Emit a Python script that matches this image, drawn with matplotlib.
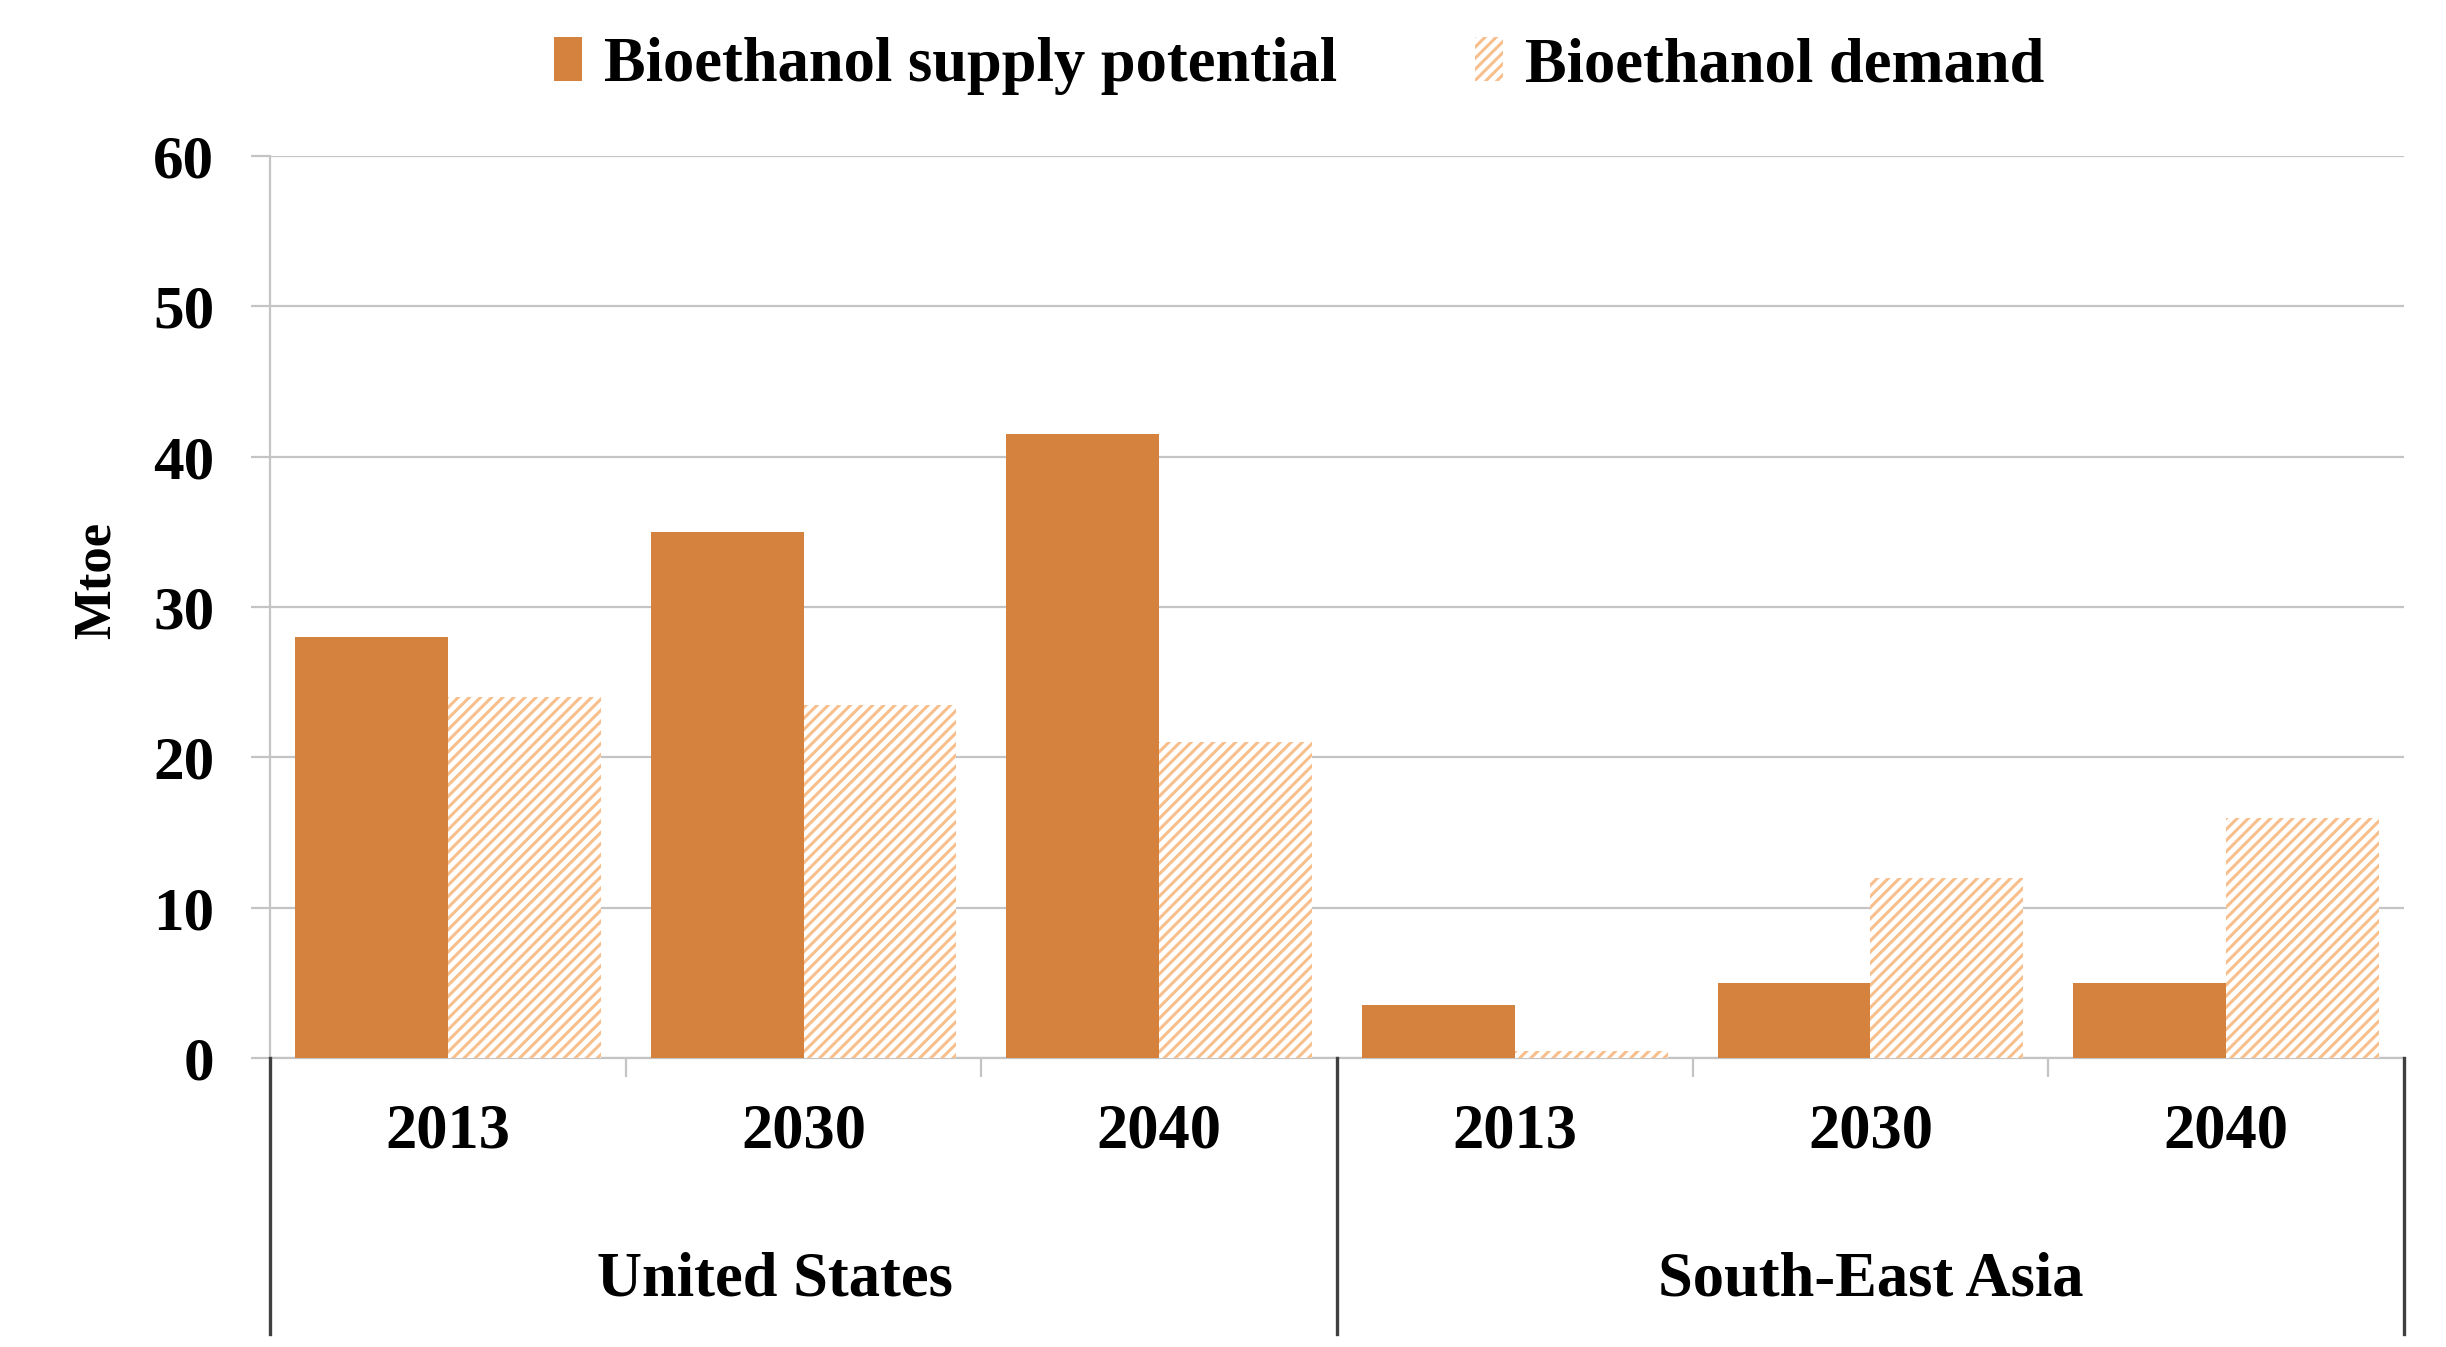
import numpy as np
import matplotlib
matplotlib.use('Agg')
import matplotlib.pyplot as plt
import matplotlib.transforms as mtransforms


# =====================================
# Data
# =====================================
regions = ['United States', 'South-East Asia']
years = ['2013', '2030', '2040']

supply = [28.0, 35.0, 41.5, 3.5, 5.0, 5.0]
demand = [24.0, 23.5, 21.0, 0.5, 12.0, 16.0]

supply_label = 'Bioethanol supply potential'
demand_label = 'Bioethanol demand'

SUPPLY_COLOR = '#D5823F'
DEMAND_COLOR = '#F8BF8D'
GRID_COLOR = '#C4C4C4'
SEP_COLOR = '#404040'


def main():
    plt.rcParams['font.family'] = ['Liberation Serif', 'DejaVu Serif']
    plt.rcParams['font.weight'] = 'bold'
    plt.rcParams['hatch.linewidth'] = 2.2

    fig = plt.figure(figsize=(24.46, 13.47), dpi=100)
    ax = fig.add_axes([0.1104, 0.2145, 0.8724, 0.6697])

    n_cat = len(regions) * len(years)
    x = np.arange(n_cat)
    w = 0.43

    ax.bar(x - w/2, supply, w, color=SUPPLY_COLOR, lw=0,
           label=supply_label, zorder=3)
    ax.bar(x + w/2, demand, w, color='white', edgecolor=DEMAND_COLOR,
           hatch='///', lw=0, label=demand_label, zorder=3)

    ax.set_xlim(-0.5, n_cat - 0.5)
    ax.set_ylim(0, 60)
    ax.set_yticks(np.arange(0, 61, 10))
    ax.grid(axis='y', color=GRID_COLOR, lw=1.6, zorder=0)
    ax.set_axisbelow(True)

    for side in ['top', 'right']:
        ax.spines[side].set_visible(False)
    ax.spines['left'].set_color(GRID_COLOR)
    ax.spines['left'].set_linewidth(1.6)
    ax.spines['bottom'].set_color(GRID_COLOR)
    ax.spines['bottom'].set_linewidth(1.6)

    ax.tick_params(axis='y', labelsize=44, length=14, width=1.6,
                   color=GRID_COLOR, pad=26)

    # year labels as major ticks, category boundaries as minor ticks
    ax.set_xticks(x)
    ax.set_xticklabels(years * len(regions), fontsize=45)
    ax.tick_params(axis='x', which='major', length=0, pad=33)
    ax.set_xticks([0.5, 1.5, 3.5, 4.5], minor=True)
    ax.tick_params(axis='x', which='minor', length=14, width=1.6,
                   color=GRID_COLOR)

    ax.set_ylabel('Mtoe', fontsize=38, fontweight='bold')
    ax.yaxis.set_label_coords(-0.07, 0.53)

    # region labels and separator lines below the axis
    trans = mtransforms.blended_transform_factory(ax.transData, ax.transAxes)
    label_shift = [-0.08, 0.0]
    for ireg, region in enumerate(regions):
        center = ireg * len(years) + (len(years) - 1) / 2 + label_shift[ireg]
        ax.text(center, -0.247, region, transform=trans, fontsize=45,
                ha='center', va='center')
    for xsep in [-0.5, 2.5, 5.5]:
        ax.plot([xsep, xsep], [0, -0.306], transform=trans, color=SEP_COLOR,
                lw=2.4, clip_on=False, zorder=4)

    fig.legend(loc='center', bbox_to_anchor=(0.531, 0.951), ncol=2,
               frameon=False, fontsize=45, handlelength=0.45,
               handleheight=0.7, handletextpad=0.35, columnspacing=2.2)

    fig.savefig('out.png', dpi=100)


if __name__ == "__main__":
    main()
